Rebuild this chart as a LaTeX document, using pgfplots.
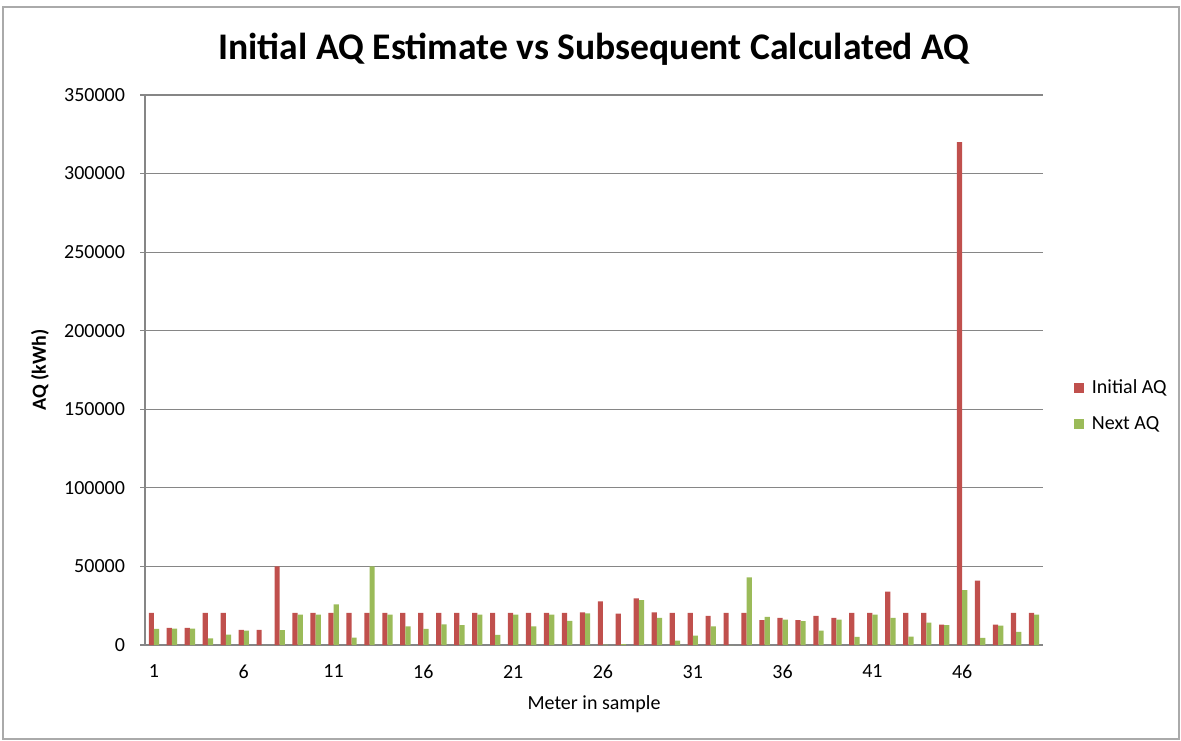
\documentclass[border=0pt]{standalone}
\usepackage{pgfplots}
\pgfplotsset{compat=1.18}
\usepackage{fontspec}
\setmainfont{Carlito}
\definecolor{initred}{HTML}{C0504D}
\definecolor{nextgreen}{HTML}{9BBB59}
\definecolor{gridgray}{HTML}{868686}

\begin{document}
\begin{tikzpicture}
\path[use as bounding box] (0pt,0pt) rectangle (590.5pt,370pt);
\draw[gridgray!70, line width=0.6pt] (1.5pt,0.5pt) rectangle (589.5pt,366.5pt);
\begin{axis}[
  at={(72.5pt,47.5pt)}, anchor=south west,
  scale only axis, width=449pt, height=275pt,
  ybar=0pt, bar width=2.6pt,
  xmin=0.5, xmax=50.5, ymin=0, ymax=350000,
  axis x line=bottom, axis y line=left,
  axis line style={draw=gridgray, line width=0.8pt, -},
  x axis line style={line width=1.1pt},
  xtick={1,6,...,46},
  xtick style={draw=none},
  extra x ticks={0.5,49.5}, extra x tick labels={},
  extra x tick style={major tick length=3pt, tick align=outside, tick style={draw=gridgray, line width=0.6pt}},
  ytick={0,50000,...,350000},
  scaled y ticks=false,
  ymajorgrids, grid style={draw=gridgray, line width=0.6pt},
  y tick style={draw=gridgray, line width=0.6pt},
  major tick length=2.5pt, tick align=outside,
  /pgf/number format/fixed, /pgf/number format/1000 sep={},
  /pgf/number format/assume math mode=true,
  tick label style={font=\fontsize{10}{12}\selectfont, text=black},
  yticklabel style={xshift=-4pt},
  xticklabel style={yshift=-4pt},
  title={Initial AQ Estimate vs Subsequent Calculated AQ},
  title style={font=\fontsize{18.8}{22}\selectfont\bfseries, at={(axis description cs:0.5,1)}, anchor=base, yshift=11.6pt},
  xlabel={Meter in sample},
  xlabel style={font=\fontsize{10}{12}\selectfont, at={(axis description cs:0.5,0)}, anchor=base, yshift=-32pt},
  ylabel={AQ (kWh)},
  ylabel style={font=\fontsize{10}{12}\selectfont\bfseries, at={(axis description cs:0,0.5)}, anchor=center, yshift=52.5pt},
  legend style={at={(axis description cs:1.034,0.4345)}, anchor=west, draw=none, fill=none,
    font=\fontsize{10}{12}\selectfont, row sep=6pt, inner sep=0pt,
    /tikz/every odd column/.append style={column sep=2pt}},
  legend cell align=left,
  legend image code/.code={\fill[#1] (0pt,-2.5pt) rectangle (5pt,2.5pt);},
]
\addplot[fill=initred, draw=none] coordinates {
 (1,20500) (2,10900) (3,10900) (4,20500) (5,20500) (6,9600) (7,9600) (8,50000) (9,20500) (10,20500)
 (11,20500) (12,20500) (13,20500) (14,20500) (15,20500) (16,20500) (17,20500) (18,20500) (19,20500) (20,20500)
 (21,20500) (22,20500) (23,20500) (24,20500) (25,20700) (26,27800) (27,19900) (28,29700) (29,20700) (30,20500)
 (31,20500) (32,18600) (33,20500) (34,20500) (35,15800) (36,17300) (37,15800) (38,18600) (39,17300) (40,20500)
 (41,20500) (42,34000) (43,20500) (44,20500) (45,13000) (46,320000) (47,41000) (48,13000) (49,20500) (50,20500)
};
\addplot[fill=nextgreen, draw=none] coordinates {
 (1,10300) (2,10500) (3,10500) (4,4300) (5,6600) (6,9200) (7,0) (8,9400) (9,19400) (10,19400)
 (11,25900) (12,4700) (13,50000) (14,19400) (15,11800) (16,10300) (17,13200) (18,12600) (19,19400) (20,6400)
 (21,19400) (22,11800) (23,19400) (24,15400) (25,20100) (26,300) (27,600) (28,28600) (29,17300) (30,2800)
 (31,6000) (32,11800) (33,0) (34,43000) (35,17900) (36,16200) (37,15200) (38,9200) (39,16200) (40,5100)
 (41,19400) (42,17300) (43,5300) (44,14300) (45,12600) (46,35000) (47,4500) (48,12400) (49,8300) (50,19400)
};
\legend{Initial AQ, Next AQ}
\end{axis}
\end{tikzpicture}
\end{document}
